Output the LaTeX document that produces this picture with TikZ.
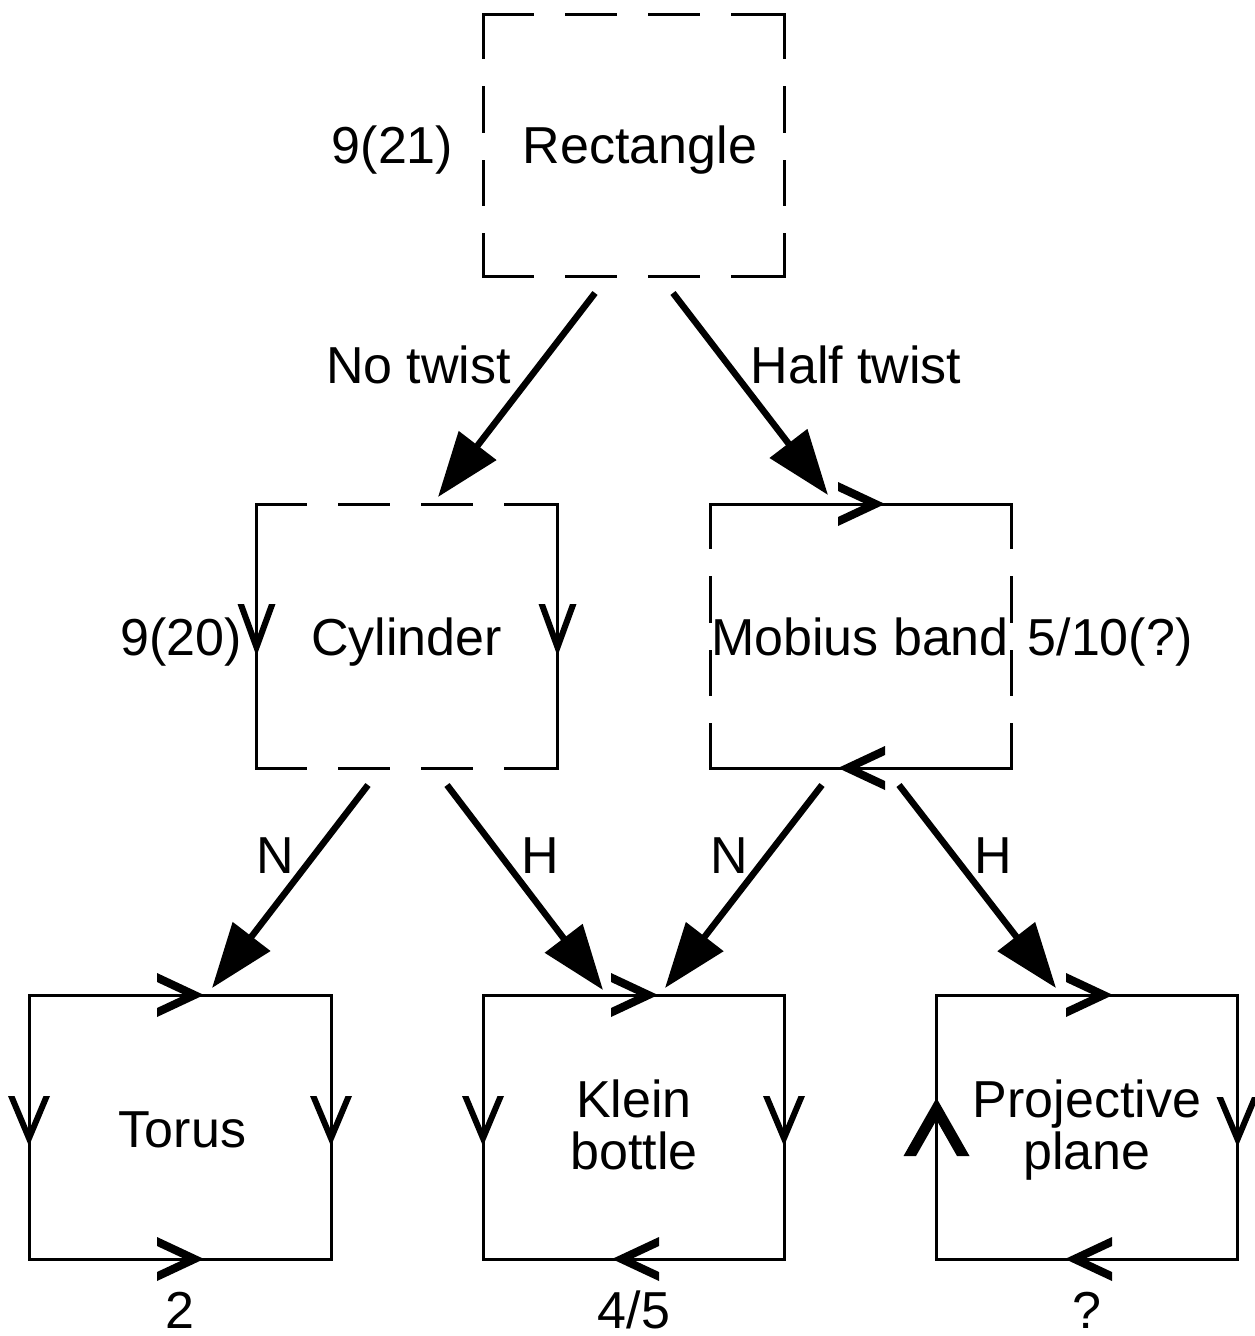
\documentclass[tikz,border=0pt]{standalone}
\usepackage{fontspec}
\setmainfont{Liberation Sans}
\usetikzlibrary{arrows.meta,calc}
\tikzset{
  box/.style={rectangle, minimum width=301pt, minimum height=264pt, inner sep=0pt, outer sep=0pt},
  lbl/.style={font=\fontsize{52}{52}\selectfont, inner sep=0pt, anchor=base},
  lbltwo/.style={font=\fontsize{52}{52}\selectfont, inner sep=0pt, align=center, anchor=base},
  solidside/.style={line width=3pt, line cap=rect, line join=miter},
  hdash/.style={line width=3pt, line cap=rect, dash pattern=on 49pt off 34pt},
  vdash/.style={line width=3pt, line cap=rect, dash pattern=on 43.5pt off 30pt},
  arr/.style={line width=6.5pt, -{Triangle[length=65pt,width=46pt]}},
  pics/chev/.style n args={3}{code={
    \fill (0,0) -- (-#1,-#2) -- (-#1,{-#2+#3}) -- ({-#3*#1/#2},0) -- (-#1,{#2-#3}) -- (-#1,#2) -- cycle;
  }}
}
\begin{document}
\begin{tikzpicture}[x=1pt,y=-1pt]
\fill[white] (0,0) rectangle (1254,1336);
\useasboundingbox (0,0) rectangle (1254,1336);

% boxes
\node[box, minimum height=262pt] (rect) at (633.5,145) {};
\node[box] (cyl) at (407,636) {};
\node[box] (mob) at (860.5,636) {};
\node[box, minimum width=302pt] (torus) at (180,1127) {};
\node[box] (klein) at (633.5,1127) {};
\node[box] (proj) at (1087,1127) {};

% rectangle: all sides dashed
\draw[hdash] (rect.north west) -- (rect.north east);
\draw[hdash] (rect.south west) -- (rect.south east);
\draw[vdash] (rect.north west) -- (rect.south west);
\draw[vdash] (rect.north east) -- (rect.south east);

% cylinder
\draw[hdash] (cyl.north west) -- (cyl.north east);
\draw[hdash] (cyl.south west) -- (cyl.south east);
\draw[solidside] (cyl.north west) -- (cyl.south west);
\draw[solidside] (cyl.north east) -- (cyl.south east);

% mobius band
\draw[solidside] (mob.north west) -- (mob.north east);
\draw[solidside] (mob.south west) -- (mob.south east);
\draw[vdash] (mob.north west) -- (mob.south west);
\draw[vdash] (mob.north east) -- (mob.south east);

% bottom row
\draw[solidside] (torus.north west) rectangle (torus.south east);
\draw[solidside] (klein.north west) rectangle (klein.south east);
\draw[solidside] (proj.north west) rectangle (proj.south east);

% edge marks
\pic[rotate=-90] at ($(cyl.west)+(0,20)$) {chev={52}{19}{6.5}};
\pic[rotate=-90] at ($(cyl.east)+(0,20)$) {chev={52}{19}{6.5}};
\pic at ($(mob.north)+(24.5,0)$) {chev={47}{22}{9}};
\pic[rotate=180] at ($(mob.south)+(-22.5,0)$) {chev={47}{22}{9}};

\pic at ($(torus.north)+(24,0)$) {chev={47}{22}{9}};
\pic at ($(torus.south)+(24,0)$) {chev={47}{22}{9}};
\pic[rotate=-90] at ($(torus.west)+(0,19)$) {chev={50}{21}{6.5}};
\pic[rotate=-90] at ($(torus.east)+(0,19)$) {chev={50}{21}{6.5}};

\pic at ($(klein.north)+(24.5,0)$) {chev={47}{22}{9}};
\pic[rotate=180] at ($(klein.south)+(-21.5,0)$) {chev={47}{22}{9}};
\pic[rotate=-90] at ($(klein.west)+(0,19)$) {chev={50}{21}{6.5}};
\pic[rotate=-90] at ($(klein.east)+(0,19)$) {chev={50}{21}{6.5}};

\pic at ($(proj.north)+(26,0)$) {chev={47}{22}{9}};
\pic[rotate=180] at ($(proj.south)+(-22,0)$) {chev={47}{22}{9}};
\pic[rotate=90] at ($(proj.west)+(0,-29)$) {chev={58}{33}{12.5}};
\pic[rotate=-90] at ($(proj.east)+(0,20)$) {chev={50}{21}{6.5}};

% connectors
\draw[arr] ($(rect.south)+(-38.5,17)$) -- ($(cyl.north)+(31,-7)$);
\draw[arr] ($(rect.south)+(39.5,17)$) -- ($(mob.north)+(-32.5,-9)$);
\draw[arr] ($(cyl.south)+(-39,17)$) -- ($(torus.north)+(32,-7)$);
\draw[arr] ($(cyl.south)+(40,17)$) -- ($(klein.north)+(-30.5,-5)$);
\draw[arr] ($(mob.south)+(-38.5,17)$) -- ($(klein.north)+(31.5,-7)$);
\draw[arr] ($(mob.south)+(38.5,17)$) -- ($(proj.north)+(-31,-7)$);

% texts
\node[lbl] (t21) at (392.5,163) {9(21)};
\node[lbl] (trect) at (640,163) {Rectangle};
\node[lbl] (tno) at (418.5,383) {No twist};
\node[lbl] (thalf) at (856,383) {Half twist};
\node[lbl] (t20) at (181,655) {9(20)};
\node[lbl] (tcyl) at (406.5,655) {Cylinder};
\node[lbl] (tmob) at (860,655) {Mobius band};
\node[lbl] (t510) at (1110,655) {5/10(?)};
\node[lbl] (n1) at (275,873) {N};
\node[lbl] (h1) at (540,873) {H};
\node[lbl] (n2) at (729,873) {N};
\node[lbl] (h2) at (993.5,873) {H};
\node[lbl] (ttor) at (182.5,1147) {Torus};
\node[lbltwo] (tkl) at (634,1169) {Klein\\bottle};
\node[lbltwo] (tpr) at (1087,1169) {Projective\\plane};
\node[lbl, text depth=0pt] (c2) at (180,1328) {2};
\node[lbl, text depth=0pt] (c45) at (634,1328) {4/5};
\node[lbl, text depth=0pt] (cq) at (1087,1328) {?};
\end{tikzpicture}
\end{document}
